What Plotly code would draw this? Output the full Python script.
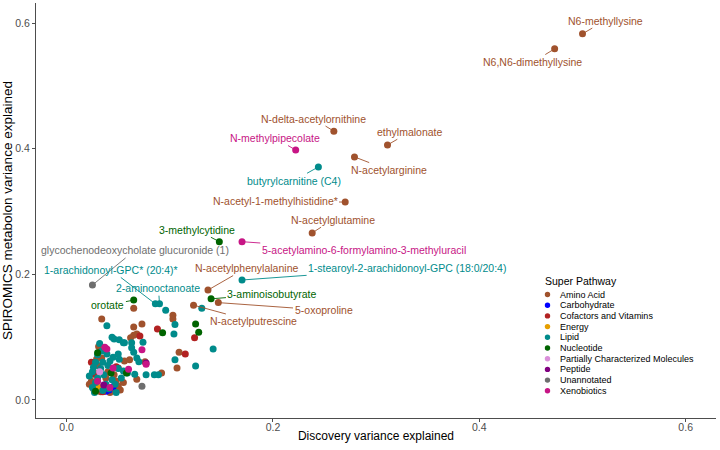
import plotly.graph_objects as go

# ---------------- data ----------------
pathways = ["Amino Acid", "Carbohydrate", "Cofactors and Vitamins", "Energy", "Lipid",
            "Nucleotide", "Partially Characterized Molecules", "Peptide", "Unannotated", "Xenobiotics"]
pathway_colors = ["#A0522D", "#0000FF", "#B22222", "#E69F00", "#008B8B",
                  "#006400", "#DA8FDA", "#800080", "#6E6E6E", "#C71585"]

# unlabeled metabolites per super pathway (Discovery x, SPIROMICS y)
amino_x = [0.065, 0.103, 0.103, 0.034, 0.065, 0.073, 0.068, 0.065, 0.062, 0.109, 0.107, 0.034,
           0.056, 0.061, 0.076, 0.068, 0.092, 0.030, 0.028, 0.024, 0.036, 0.045, 0.048, 0.040,
           0.026, 0.033, 0.050, 0.042, 0.022, 0.046, 0.029, 0.052, 0.038, 0.031, 0.055]
amino_y = [0.146, 0.135, 0.129, 0.129, 0.116, 0.121, 0.105, 0.103, 0.099, 0.076, 0.051, 0.067,
           0.062, 0.064, 0.061, 0.033, 0.043, 0.055, 0.042, 0.030, 0.022, 0.018, 0.030, 0.045,
           0.018, 0.013, 0.022, 0.012, 0.025, 0.040, 0.065, 0.016, 0.035, 0.085, 0.028]
carb_x = [0.038, 0.045, 0.041]
carb_y = [0.014, 0.021, 0.016]
cofac_x = [0.088, 0.071, 0.124, 0.115, 0.050, 0.024, 0.035, 0.026, 0.048]
cofac_y = [0.113, 0.102, 0.099, 0.073, 0.051, 0.060, 0.013, 0.041, 0.053]
energy_x = [0.031]
energy_y = [0.020]
lipid_x = [0.096, 0.105, 0.131, 0.039, 0.104, 0.142, 0.105, 0.125, 0.046, 0.051, 0.056, 0.063,
           0.074, 0.065, 0.050, 0.039, 0.042, 0.051, 0.068, 0.070, 0.055, 0.059, 0.066, 0.077,
           0.085, 0.089, 0.030, 0.034, 0.028, 0.033, 0.040, 0.025, 0.036, 0.044, 0.030, 0.025,
           0.038, 0.047, 0.035, 0.028, 0.041, 0.053, 0.032, 0.045, 0.026, 0.050, 0.022, 0.035,
           0.044, 0.063, 0.055, 0.027, 0.048]
lipid_y = [0.143, 0.120, 0.146, 0.118, 0.105, 0.081, 0.064, 0.054, 0.097, 0.096, 0.091, 0.091,
           0.092, 0.076, 0.073, 0.073, 0.062, 0.065, 0.067, 0.061, 0.046, 0.043, 0.041, 0.040,
           0.040, 0.040, 0.072, 0.078, 0.060, 0.050, 0.055, 0.045, 0.040, 0.032, 0.035, 0.020,
           0.025, 0.025, 0.015, 0.028, 0.018, 0.035, 0.090, 0.068, 0.052, 0.050, 0.038, 0.060,
           0.100, 0.083, 0.091, 0.012, 0.012]
nucleo_x = [0.093, 0.125, 0.128, 0.043, 0.058, 0.028, 0.030]
nucleo_y = [0.107, 0.121, 0.108, 0.043, 0.043, 0.014, 0.075]
partial_x = [0.032]
partial_y = [0.045]
peptide_x = [0.077, 0.036]
peptide_y = [0.059, 0.024]
unann_x = [0.073]
unann_y = [0.022]
xeno_x = [0.073, 0.039, 0.077, 0.045, 0.060, 0.037, 0.030, 0.042]
xeno_y = [0.080, 0.081, 0.057, 0.051, 0.049, 0.084, 0.030, 0.020]

# labeled metabolites
label_names = ["N6-methyllysine", "N6,N6-dimethyllysine", "N-delta-acetylornithine", "ethylmalonate",
               "N-acetylarginine", "N-methylpipecolate", "butyrylcarnitine (C4)",
               "N-acetyl-1-methylhistidine*", "N-acetylglutamine",
               "5-acetylamino-6-formylamino-3-methyluracil", "3-methylcytidine",
               "glycochenodeoxycholate glucuronide (1)", "1-arachidonoyl-GPC* (20:4)*",
               "N-acetylphenylalanine", "1-stearoyl-2-arachidonoyl-GPC (18:0/20:4)",
               "2-aminooctanoate", "3-aminoisobutyrate", "orotate", "5-oxoproline",
               "N-acetylputrescine"]
label_pathway = ["Amino Acid", "Amino Acid", "Amino Acid", "Amino Acid", "Amino Acid", "Xenobiotics",
                 "Lipid", "Amino Acid", "Amino Acid", "Xenobiotics", "Nucleotide", "Unannotated",
                 "Lipid", "Amino Acid", "Lipid", "Lipid", "Nucleotide", "Nucleotide", "Amino Acid",
                 "Amino Acid"]
label_x = [0.500, 0.473, 0.259, 0.311, 0.279, 0.222, 0.244, 0.270, 0.238, 0.170, 0.148, 0.025,
           0.086, 0.137, 0.170, 0.090, 0.140, 0.065, 0.147, 0.123]
label_y = [0.583, 0.559, 0.428, 0.406, 0.387, 0.398, 0.371, 0.315, 0.266, 0.252, 0.252, 0.183,
           0.153, 0.175, 0.191, 0.153, 0.161, 0.159, 0.155, 0.151]

# label text placement (layout)
label_text_x = [0.522, 0.452, 0.239, 0.333, 0.312, 0.202, 0.220, 0.202, 0.258, 0.288, 0.126, 0.066,
                0.043, 0.174, 0.330, 0.089, 0.199, 0.040, 0.249, 0.181]
label_text_y = [0.604, 0.538, 0.448, 0.427, 0.366, 0.417, 0.349, 0.317, 0.287, 0.238, 0.271, 0.238,
                0.207, 0.210, 0.210, 0.178, 0.169, 0.151, 0.143, 0.125]

point_x = [amino_x, carb_x, cofac_x, energy_x, lipid_x, nucleo_x, partial_x, peptide_x, unann_x, xeno_x]
point_y = [amino_y, carb_y, cofac_y, energy_y, lipid_y, nucleo_y, partial_y, peptide_y, unann_y, xeno_y]

FONT = "Liberation Sans, Arial, sans-serif"

fig = go.Figure()
for i, pw in enumerate(pathways):
    xs = list(point_x[i]) + [label_x[j] for j in range(len(label_names)) if label_pathway[j] == pw]
    ys = list(point_y[i]) + [label_y[j] for j in range(len(label_names)) if label_pathway[j] == pw]
    fig.add_trace(go.Scatter(x=xs, y=ys, mode="markers", name=pw, showlegend=False,
                             marker=dict(color=pathway_colors[i], size=7, line=dict(width=0)),
                             cliponaxis=False))

annotations = []
for j, name in enumerate(label_names):
    col = pathway_colors[pathways.index(label_pathway[j])]
    annotations.append(dict(x=label_x[j], y=label_y[j], xref="x", yref="y",
                            ax=label_text_x[j], ay=label_text_y[j], axref="x", ayref="y",
                            text=name, showarrow=True, arrowhead=0, arrowwidth=0.9,
                            arrowcolor=col, standoff=2, borderpad=1,
                            font=dict(family=FONT, size=10.5, color=col)))

# manual legend (ggplot style, compact)
plot_l, plot_r, plot_t, plot_b = 36, 4, 3, 32
W, H = 720, 450
pw_w = W - plot_l - plot_r
pw_h = H - plot_t - plot_b
def px_to_paper(px, py):
    return (px - plot_l) / pw_w, (H - plot_b - py) / pw_h

tx, ty = px_to_paper(542.5, 281)
annotations.append(dict(x=tx, y=ty, xref="paper", yref="paper", text="Super Pathway", showarrow=False,
                        xanchor="left", yanchor="middle", font=dict(family=FONT, size=10.5, color="#000")))
shapes = []
for i, pw in enumerate(pathways):
    mx, my = px_to_paper(547.5, 294.5 + i * 10.7)
    lx, ly = px_to_paper(557.5, 294.5 + i * 10.7)
    shapes.append(dict(type="circle", xref="paper", yref="paper", xsizemode="pixel", ysizemode="pixel",
                       xanchor=mx, yanchor=my, x0=-2.7, x1=2.7, y0=-2.7, y1=2.7,
                       fillcolor=pathway_colors[i], line=dict(width=0)))
    annotations.append(dict(x=lx, y=ly, xref="paper", yref="paper", text=pw, showarrow=False,
                            xanchor="left", yanchor="middle",
                            font=dict(family=FONT, size=9, color="#000")))

fig.update_layout(
    width=W, height=H,
    margin=dict(l=plot_l, r=plot_r, t=plot_t, b=plot_b, autoexpand=False),
    plot_bgcolor="white", paper_bgcolor="white",
    font=dict(family=FONT),
    annotations=annotations, shapes=shapes,
    xaxis=dict(range=[-0.0297, 0.6294], showgrid=False, zeroline=False,
               showline=True, linecolor="#4D4D4D", linewidth=1,
               ticks="outside", ticklen=3, tickcolor="#4D4D4D", tickwidth=1,
               tickvals=[0.0, 0.2, 0.4, 0.6], ticktext=["0.0", "0.2", "0.4", "0.6"],
               tickfont=dict(size=10.5, color="#4D4D4D"), ticklabelstandoff=-4,
               title=dict(text="Discovery variance explained", font=dict(size=12, color="#000"), standoff=0)),
    yaxis=dict(range=[-0.0287, 0.632], showgrid=False, zeroline=False,
               showline=True, linecolor="#4D4D4D", linewidth=1,
               ticks="outside", ticklen=3, tickcolor="#4D4D4D", tickwidth=1,
               tickvals=[0.0, 0.2, 0.4, 0.6], ticktext=["0.0", "0.2", "0.4", "0.6"],
               tickfont=dict(size=10.5, color="#4D4D4D"),
               title=dict(text="SPIROMICS metabolon variance explained", font=dict(size=13.5, color="#000"), standoff=0)),
)

fig.write_html("out.html", config={"displayModeBar": False},
               post_script="document.body.style.margin='0';document.body.style.overflow='hidden';")
